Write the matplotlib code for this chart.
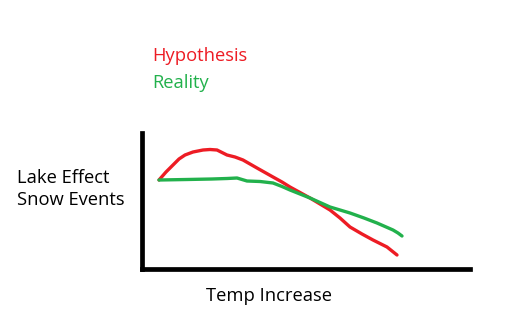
import matplotlib
matplotlib.use("Agg")
import matplotlib.pyplot as plt

# Data (arbitrary units)
hyp_x = [17, 24, 31, 37, 43, 51, 61, 68, 75, 80, 85, 93, 101, 108, 115, 123, 131, 140, 148, 158, 168, 178, 188, 198, 208, 220, 231, 238, 245, 250, 255]
hyp_y = [89, 97, 104, 110, 114, 117, 119, 119.5, 119, 116.5, 114, 112, 109, 105, 101, 96.5, 92, 87, 82, 76.5, 71, 65, 59, 51, 42, 35, 29, 25.5, 22, 18, 14]
real_x = [17, 45, 70, 85, 95, 100, 105, 118, 131, 140, 148, 158, 168, 178, 188, 198, 208, 222, 235, 243, 251, 256, 260]
real_y = [89, 89.5, 90, 90.5, 91, 89.5, 88, 87.5, 86, 82.5, 79, 75, 71, 66.5, 62, 59, 56, 51, 46, 42.5, 39, 36, 33]
legend_labels = ["Hypothesis", "Reality"]
x_label = "Temp Increase"
y_label = "Lake Effect\nSnow Events"

W, H = 532, 327
fig = plt.figure(figsize=(W / 100, H / 100), dpi=100)
fig.patch.set_facecolor("white")

left, right, top, bottom = 142, 470, 133, 269
ax = fig.add_axes([left / W, (H - bottom) / H, (right - left) / W, (bottom - top) / H])
ax.set_xlim(0, right - left)
ax.set_ylim(0, bottom - top)
for s in ["top", "right"]:
    ax.spines[s].set_visible(False)
for s in ["left", "bottom"]:
    ax.spines[s].set_linewidth(3.4)
    ax.spines[s].set_color("black")
    ax.spines[s].set_capstyle("projecting")
ax.set_xticks([])
ax.set_yticks([])
ax.patch.set_alpha(0)

red = "#ED1C24"
green = "#22B14C"
ax.plot(hyp_x, hyp_y, color=red, lw=2.4, solid_capstyle="round", solid_joinstyle="round", clip_on=False)
ax.plot(real_x, real_y, color=green, lw=2.4, solid_capstyle="round", solid_joinstyle="round", clip_on=False)

font = "Open Sans"
fs = 13.2
fig.text(152 / W, 1 - 56 / H, legend_labels[0], color=red, fontsize=fs, family=font, va="center", ha="left")
fig.text(152 / W, 1 - 83 / H, legend_labels[1], color=green, fontsize=fs, family=font, va="center", ha="left")
fig.text(17 / W, 1 - 189 / H, y_label, color="black", fontsize=fs, family=font, va="center", ha="left", linespacing=1.25)
fig.text(269 / W, 1 - 296 / H, x_label, color="black", fontsize=fs, family=font, va="center", ha="center")

fig.savefig("out.png", dpi=100, facecolor="white")
